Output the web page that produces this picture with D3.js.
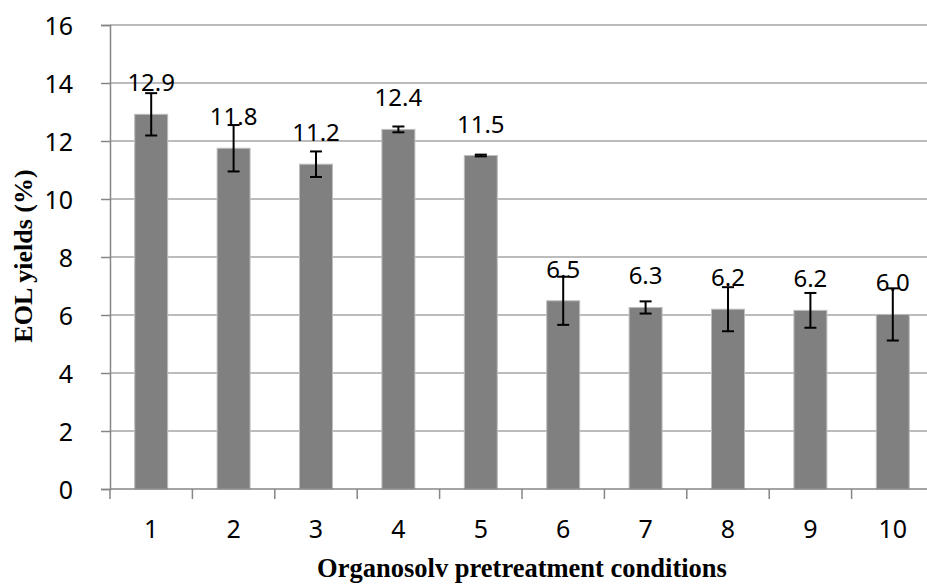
<!DOCTYPE html>
<html>
<head>
<meta charset="utf-8">
<script src="https://cdn.jsdelivr.net/npm/d3@7"></script>
<style>
  html, body { margin: 0; padding: 0; background: #fff; }
  svg { display: block; }
</style>
</head>
<body>
<svg id="chart" width="927" height="584"></svg>
<script>
const categories = ["1","2","3","4","5","6","7","8","9","10"];
const values = [12.92, 11.75, 11.20, 12.40, 11.50, 6.49, 6.26, 6.20, 6.16, 6.02];
const errors = [0.73, 0.80, 0.44, 0.10, 0.03, 0.83, 0.21, 0.76, 0.60, 0.90];
const valueLabels = ["12.9","11.8","11.2","12.4","11.5","6.5","6.3","6.2","6.2","6.0"];
const yTicks = [0, 2, 4, 6, 8, 10, 12, 14, 16];
const xTitle = "Organosolv pretreatment conditions";
const yTitle = "EOL yields (%)";

(function () {
const svg = d3.select("#chart");
const mLeft = 110, mRight = 934, mTop = 25, mBottom = 489;

const x = d3.scaleBand().domain(categories).range([mLeft, mRight]).paddingInner(0.6).paddingOuter(0.3);
const xb = d3.scaleBand().domain(categories).range([mLeft, mRight]);
const y = d3.scaleLinear().domain([0, 16]).range([mBottom, mTop]);

const sans = "'Noto Sans', 'DejaVu Sans', sans-serif";
const serif = "'Liberation Serif', 'Times New Roman', serif";

// gridlines
svg.append("g").selectAll("line").data(yTicks.filter(d => d > 0)).join("line")
  .attr("x1", mLeft).attr("x2", 927)
  .attr("y1", d => y(d)).attr("y2", d => y(d))
  .attr("stroke", "#a6a6a6").attr("stroke-width", 1.6);

// y axis
const yAxis = svg.append("g").attr("transform", `translate(${mLeft},0)`)
  .call(d3.axisLeft(y).tickValues(yTicks).tickSize(9).tickPadding(28).tickFormat(d3.format("d")));
yAxis.select(".domain").attr("stroke", "#868686").attr("stroke-width", 1.5);
yAxis.selectAll(".tick line").attr("stroke", "#868686").attr("stroke-width", 1.5);
yAxis.selectAll("text").attr("font-family", sans).attr("font-size", 25).attr("fill", "#000").attr("dy", "0.36em");

// bars
svg.append("g").selectAll("rect").data(values).join("rect")
  .attr("x", (d, i) => x(categories[i]))
  .attr("width", x.bandwidth())
  .attr("y", d => y(d))
  .attr("height", d => y(0) - y(d))
  .attr("fill", "#808080")
  .attr("stroke", "#bdbdbd").attr("stroke-width", 1);

// x axis
const xAxisG = svg.append("g").attr("transform", `translate(0,${mBottom})`);
xAxisG.append("line").attr("x1", mLeft).attr("x2", mRight).attr("stroke", "#868686").attr("stroke-width", 1.5);
xAxisG.selectAll("line.tk").data(categories.concat(["end"])).join("line").attr("class", "tk")
  .attr("x1", (d, i) => i < categories.length ? xb(d) : mRight)
  .attr("x2", (d, i) => i < categories.length ? xb(d) : mRight)
  .attr("y1", 0).attr("y2", 10).attr("stroke", "#868686").attr("stroke-width", 1.5);
xAxisG.selectAll("text").data(categories).join("text")
  .attr("x", d => xb(d) + xb.bandwidth() / 2)
  .attr("y", 49)
  .attr("text-anchor", "middle")
  .attr("font-family", sans).attr("font-size", 25).attr("fill", "#000")
  .text(d => d);

// error bars
const eb = svg.append("g").attr("stroke", "#000").attr("stroke-width", 2);
values.forEach((v, i) => {
  const cx = x(categories[i]) + x.bandwidth() / 2;
  const e = errors[i];
  eb.append("line").attr("x1", cx).attr("x2", cx).attr("y1", y(v + e)).attr("y2", y(v - e));
  eb.append("line").attr("x1", cx - 6).attr("x2", cx + 6).attr("y1", y(v + e)).attr("y2", y(v + e));
  eb.append("line").attr("x1", cx - 6).attr("x2", cx + 6).attr("y1", y(v - e)).attr("y2", y(v - e));
});

// value labels
svg.append("g").selectAll("text").data(values).join("text")
  .attr("x", (d, i) => x(categories[i]) + x.bandwidth() / 2)
  .attr("y", d => y(d) - 23)
  .attr("text-anchor", "middle")
  .attr("font-family", sans).attr("font-size", 24).attr("fill", "#000")
  .text((d, i) => valueLabels[i]);

// titles
svg.append("text").attr("x", 522).attr("y", 577).attr("text-anchor", "middle")
  .attr("font-family", serif).attr("font-weight", "bold").attr("font-size", 26.5).attr("fill", "#000")
  .text(xTitle);
svg.append("text").attr("transform", "translate(32,256) rotate(-90)").attr("text-anchor", "middle")
  .attr("font-family", serif).attr("font-weight", "bold").attr("font-size", 26).attr("fill", "#000")
  .text(yTitle);
})();
</script>
</body>
</html>
